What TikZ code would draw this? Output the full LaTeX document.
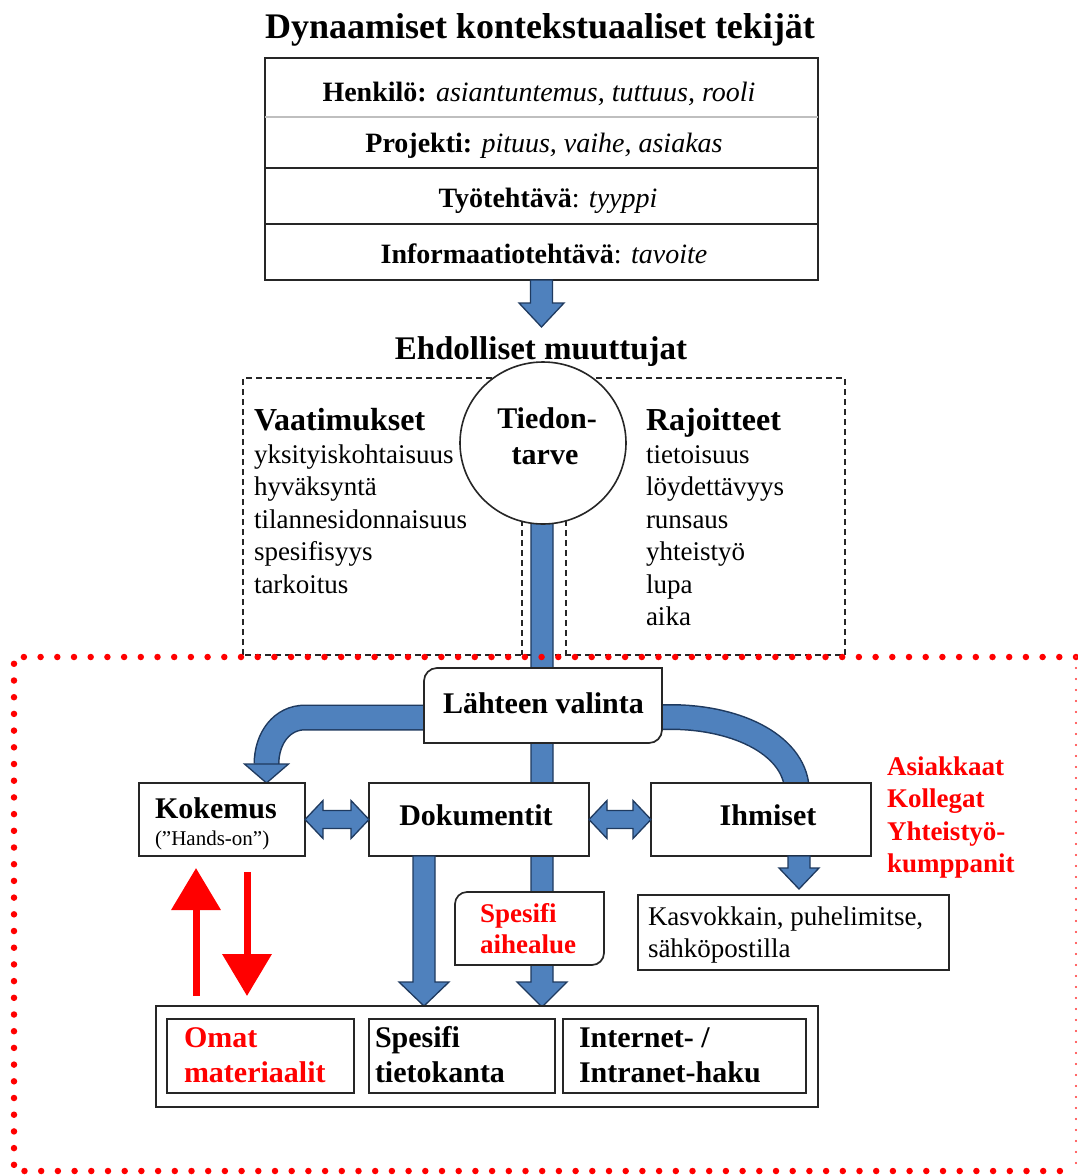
\documentclass[tikz,border=0pt]{standalone}
\usepackage{fontspec}
\setmainfont{Liberation Serif}
\usetikzlibrary{calc,arrows.meta,shapes.geometric}
\definecolor{blu}{HTML}{4F81BD}
\definecolor{bluline}{HTML}{1F3A5F}
\definecolor{boxline}{HTML}{262626}
\definecolor{redx}{HTML}{FF0000}
\newcommand{\fs}[1]{\fontsize{#1}{#1}\selectfont}
\tikzset{
  bare/.style={inner sep=0pt, outer sep=0pt},
  box/.style={draw=boxline, line width=1.7pt, fill=white, inner sep=0pt, outer sep=0pt},
  boxl/.style={draw=boxline, line width=1.7pt},
  rbox/.style={draw=boxline, line width=1.7pt, fill=white},
  blkarr/.style={fill=blu, draw=bluline, line width=1.3pt, line join=miter},
  band/.style={line width=23pt, draw=blu},
  bandout/.style={line width=26pt, draw=bluline},
  bl/.style={anchor=base west, inner sep=0pt, outer sep=0pt},
  bc/.style={anchor=base, inner sep=0pt, outer sep=0pt},
  dashbox/.style={draw=black!85, line width=1.5pt, dash pattern=on 6pt off 4pt},
  reddots/.style={draw=redx, line width=6.5pt, line cap=round, dash pattern=on 0pt off 16.7pt},
  reddotsthin/.style={draw=redx!80, line width=2.2pt, line cap=round, dash pattern=on 0pt off 11pt},
  redarrow/.style={draw=redx, line width=7pt, -{Triangle[length=42pt,width=48pt]}},
}
% vertical block arrow: start, tip, shaft half, head half, head length
\newcommand{\blkdown}[5]{\filldraw[blkarr] let \p1=(#1), \p2=(#2) in
  (\x1-#3pt,\y1) -- (\x1-#3pt,\y2+#5pt) -- (\x1-#4pt,\y2+#5pt) -- (\x1,\y2)
  -- (\x1+#4pt,\y2+#5pt) -- (\x1+#3pt,\y2+#5pt) -- (\x1+#3pt,\y1) -- cycle;}
% horizontal double block arrow: left tip, right tip, shaft half, head half, head length
\newcommand{\blkboth}[5]{\filldraw[blkarr] let \p1=(#1), \p2=(#2) in
  (\x1,\y1) -- (\x1+#5pt,\y1+#4pt) -- (\x1+#5pt,\y1+#3pt) -- (\x2-#5pt,\y1+#3pt)
  -- (\x2-#5pt,\y1+#4pt) -- (\x2,\y1) -- (\x2-#5pt,\y1-#4pt) -- (\x2-#5pt,\y1-#3pt)
  -- (\x1+#5pt,\y1-#3pt) -- (\x1+#5pt,\y1-#4pt) -- cycle;}
% box with rounded top-left and bottom-right corners
\newcommand{\diagbox}[2]{\filldraw[rbox] let \p1=(#1.south west), \p2=(#1.north east) in
  (\x1,\y1) -- (\x1,\y2-#2pt) .. controls (\x1,\y2-0.45*#2pt) and (\x1+0.45*#2pt,\y2) .. (\x1+#2pt,\y2)
  -- (\x2,\y2) -- (\x2,\y1+#2pt) .. controls (\x2,\y1+0.45*#2pt) and (\x2-0.45*#2pt,\y1) .. (\x2-#2pt,\y1) -- cycle;}
\begin{document}
\begin{tikzpicture}[x=1pt,y=-1pt]
\useasboundingbox (0,0) rectangle (1077,1176);
\fill[white] (0,0) rectangle (1077,1176);

% ---------- title and top box ----------
\node[bc, font=\fs{36}\bfseries] (title) at (540,38) {Dynaamiset kontekstuaaliset tekijät};
\node[bare, minimum width=553pt, minimum height=59pt] (r1) at (541.5,87.5) {};
\node[bare, minimum width=553pt, minimum height=51pt] (r2) at (541.5,142.5) {};
\node[bare, minimum width=553pt, minimum height=56pt] (r3) at (541.5,196) {};
\node[bare, minimum width=553pt, minimum height=56pt] (r4) at (541.5,252) {};
\draw[boxl] (r1.north west) rectangle (r4.south east);
\draw[draw=black!25, line width=1.2pt] (r1.south west) -- (r1.south east);
\draw[boxl] (r2.south west) -- (r2.south east);
\draw[boxl] (r3.south west) -- (r3.south east);
\node[bc, font=\fs{28}] (t1) at (539,101) {\textbf{Henkilö:} \textit{asiantuntemus, tuttuus, rooli}};
\node[bc, font=\fs{28}] (t2) at (544,152) {\textbf{Projekti:} \textit{pituus, vaihe, asiakas}};
\node[bc, font=\fs{28}] (t3) at (548,207) {\textbf{Työtehtävä}: \textit{tyyppi}};
\node[bc, font=\fs{28}] (t4) at (544,263) {\textbf{Informaatiotehtävä}: \textit{tavoite}};

\coordinate (tipA) at (541,327);
\blkdown{r4.south}{tipA}{11}{22.5}{24}

\node[bc, font=\fs{33}\bfseries] (cond title) at (541,359) {Ehdolliset muuttujat};

% ---------- conditional variables ----------
\node[bare, minimum width=602pt, minimum height=277pt] (cond) at (544,516.5) {};
\draw[dashbox] (cond.south west) rectangle (cond.north east);
\coordinate (dl1) at (522,500); \coordinate (dl2) at (522,655);
\coordinate (dr1) at (566,500); \coordinate (dr2) at (566,655);
\draw[dashbox] (dl1) -- (dl2);
\draw[dashbox] (dr1) -- (dr2);

\node[bl, font=\fs{32}\bfseries] (vaat) at (254,430) {Vaatimukset};
\foreach \t [count=\i] in {yksityiskohtaisuus, hyväksyntä, tilannesidonnaisuus, spesifisyys, tarkoitus}
  \node[bl, font=\fs{27}] (va\i) at (254,430.5+\i*32.5) {\t};
\node[bl, font=\fs{32}\bfseries] (raj) at (646,430) {Rajoitteet};
\foreach \t [count=\i] in {tietoisuus, löydettävyys, runsaus, yhteistyö, lupa, aika}
  \node[bl, font=\fs{27}] (ra\i) at (646,430.5+\i*32.5) {\t};

% central shaft
\coordinate (circc) at (542,445);
\coordinate (tipC) at (542,1007);
\blkdown{circc}{tipC}{11}{25}{25}

\node[draw=boxline, line width=1.6pt, fill=white, ellipse, minimum width=166pt, minimum height=162pt, inner sep=0pt] (circ) at (543,443) {};
\node[bc, font=\fs{30}\bfseries] (tied) at (547,428) {Tiedon-};
\node[bc, font=\fs{30}\bfseries] (tarve) at (545,464) {tarve};

% ---------- source selection ----------
\node[bare, minimum width=238pt, minimum height=75pt] (lv) at (543,705.5) {};
% curved bands
\coordinate (lb0) at (440,717.5); \coordinate (lb1) at (305,717.5);
\coordinate (lb2) at (266.5,764);
\draw[bandout] (lb0) -- (lb1) .. controls (282,717.5) and (266.5,738) .. (lb2);
\draw[band] (lb0) -- (lb1) .. controls (282,717.5) and (266.5,738) .. (lb2);
\coordinate (tipK) at (266.5,783);
\blkdown{lb2}{tipK}{11.5}{22}{19}

\coordinate (rb0) at (640,717); \coordinate (rb1) at (670,717);
\coordinate (rb2) at (797,792);
\draw[bandout] (rb0) -- (rb1) .. controls (740,717) and (797,747) .. (rb2);
\draw[band] (rb0) -- (rb1) .. controls (740,717) and (797,747) .. (rb2);

\diagbox{lv}{13}
\node[bl, font=\fs{30}\bfseries] (lvt) at (443,713) {Lähteen valinta};

% ---------- three source boxes ----------
\node[box, minimum width=166pt, minimum height=73pt] (kok) at (222,819.5) {};
\node[bl, font=\fs{30}\bfseries] (kokt) at (155,818) {Kokemus};
\node[bl, font=\fs{21}] (kokh) at (155,845) {(”Hands-on”)};

\node[box, minimum width=220pt, minimum height=73pt] (dok) at (479,819.5) {};
\node[bc, font=\fs{30}\bfseries] (dokt) at (476,825) {Dokumentit};

\node[box, minimum width=220pt, minimum height=73pt] (ihm) at (761,819.5) {};
\node[bc, font=\fs{30}\bfseries] (ihmt) at (768,825) {Ihmiset};

\blkboth{kok.east}{dok.west}{9}{19}{18}
\blkboth{dok.east}{ihm.west}{9}{19}{18}

\node[bl, font=\fs{27}\bfseries, text=redx] (as1) at (887,775) {Asiakkaat};
\node[bl, font=\fs{27}\bfseries, text=redx] (as2) at (887,807) {Kollegat};
\node[bl, font=\fs{27}\bfseries, text=redx] (as3) at (887,840) {Yhteistyö-};
\node[bl, font=\fs{27}\bfseries, text=redx] (as4) at (887,872) {kumppanit};

\coordinate (ia1) at (799,856); \coordinate (ia2) at (799,889);
\blkdown{ia1}{ia2}{11}{20}{21}

\node[box, minimum width=311pt, minimum height=75pt] (kas) at (793.5,932.5) {};
\node[bl, font=\fs{27}] (kas1) at (648,925) {Kasvokkain, puhelimitse,};
\node[bl, font=\fs{27}] (kas2) at (648,957) {sähköpostilla};

% arrow from Dokumentit down
\coordinate (da1) at (424,856); \coordinate (da2) at (424,1006);
\blkdown{da1}{da2}{11}{25}{24}

% Spesifi aihealue
\node[bare, minimum width=149pt, minimum height=73pt] (spa) at (529.5,928.5) {};
\diagbox{spa}{12}
\node[bl, font=\fs{27}\bfseries, text=redx] (spa1) at (480,922) {Spesifi};
\node[bl, font=\fs{27}\bfseries, text=redx] (spa2) at (480,953) {aihealue};

% ---------- bottom sources ----------
\node[box, minimum width=662pt, minimum height=101pt] (bot) at (487,1056.5) {};
\node[box, minimum width=187pt, minimum height=74pt] (omat) at (260.5,1056) {};
\node[box, minimum width=186pt, minimum height=74pt] (spt) at (462,1056) {};
\node[box, minimum width=243pt, minimum height=74pt] (inet) at (684.5,1056) {};
\node[bl, font=\fs{30}\bfseries, text=redx] (om1) at (184,1047) {Omat};
\node[bl, font=\fs{30}\bfseries, text=redx] (om2) at (184,1082) {materiaalit};
\node[bl, font=\fs{30}\bfseries] (sp1) at (375,1047) {Spesifi};
\node[bl, font=\fs{30}\bfseries] (sp2) at (375,1082) {tietokanta};
\node[bl, font=\fs{30}\bfseries] (in1) at (579,1047) {Internet- /};
\node[bl, font=\fs{30}\bfseries] (in2) at (579,1082) {Intranet-haku};

% red arrows
\coordinate (ru1) at (196,996); \coordinate (ru2) at (196,868);
\coordinate (rd1) at (247,872); \coordinate (rd2) at (247,996);
\draw[redarrow] (ru1) -- (ru2);
\draw[redarrow] (rd1) -- (rd2);

% ---------- red dotted frame ----------
\coordinate (rf1) at (14,657); \coordinate (rf2) at (1076,657);
\coordinate (rf3) at (1076,1171); \coordinate (rf4) at (14,1171);
\draw[reddots] (rf2) -- (rf1) -- (rf4) -- (rf3);
\draw[reddotsthin] (rf2) -- (rf3);
\end{tikzpicture}
\end{document}
